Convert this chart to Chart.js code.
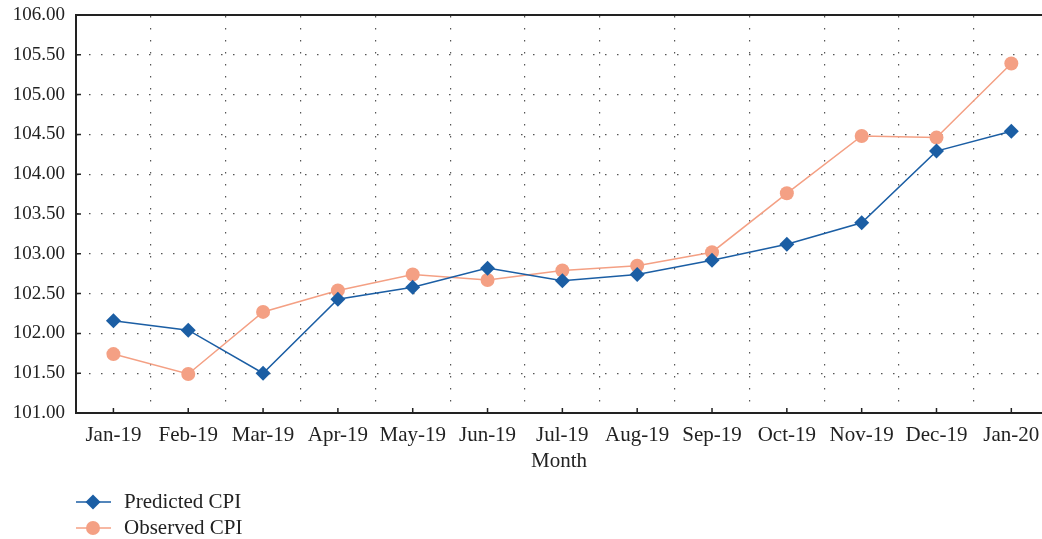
<!DOCTYPE html>
<html>
<head>
<meta charset="utf-8">
<title>Predicted vs Observed CPI</title>
<script src="https://cdn.jsdelivr.net/npm/chart.js@4"></script>
<style>
  html, body { margin: 0; padding: 0; background: #fff; overflow: hidden; }
  #wrap { width: 1042px; height: 539px; }
  canvas { display: block; }
</style>
</head>
<body>
<div id="wrap"><canvas id="cpi" width="1042" height="539"></canvas></div>
<script>
// data
const months = ['Jan-19', 'Feb-19', 'Mar-19', 'Apr-19', 'May-19', 'Jun-19', 'Jul-19',
  'Aug-19', 'Sep-19', 'Oct-19', 'Nov-19', 'Dec-19', 'Jan-20'];
const predictedCPI = [102.16, 102.04, 101.50, 102.43, 102.58, 102.82, 102.66,
  102.74, 102.92, 103.12, 103.39, 104.29, 104.54];
const observedCPI = [101.74, 101.49, 102.27, 102.54, 102.74, 102.67, 102.79,
  102.85, 103.02, 103.76, 104.48, 104.46, 105.39];
const yTicks = [101, 101.5, 102, 102.5, 103, 103.5, 104, 104.5, 105, 105.5, 106];

const FONT = '"Liberation Serif", "Times New Roman", serif';
const BLUE = '#1b5ea4';
const ORANGE = '#f4a084';
const DOTS = '#555555';

// small inward tick marks on the bottom and left axes
const innerTicks = {
  id: 'innerTicks',
  afterDatasetsDraw(chart) {
    const { ctx, chartArea, scales } = chart;
    ctx.save();
    ctx.strokeStyle = '#222';
    ctx.lineWidth = 1.5;
    ctx.beginPath();
    months.forEach((m, i) => {
      const x = scales.x.getPixelForValue(i);
      ctx.moveTo(x, chartArea.bottom);
      ctx.lineTo(x, chartArea.bottom - 5);
    });
    yTicks.forEach(v => {
      const y = scales.y.getPixelForValue(v);
      ctx.moveTo(chartArea.left, y);
      ctx.lineTo(chartArea.left + 5, y);
    });
    ctx.stroke();
    ctx.restore();
  }
};

// legend drawn as line + marker, one entry per row, bottom left
const lineLegend = {
  id: 'lineLegend',
  afterDraw(chart) {
    const { ctx, chartArea } = chart;
    const x0 = chartArea.left;
    chart.data.datasets.forEach((ds, i) => {
      const y = 502 + i * 26;
      ctx.save();
      ctx.strokeStyle = ds.borderColor;
      ctx.lineWidth = ds.borderWidth;
      ctx.beginPath();
      ctx.moveTo(x0, y);
      ctx.lineTo(x0 + 35, y);
      ctx.stroke();
      const cx = x0 + 17, r = ds.pointRadius;
      ctx.fillStyle = ds.pointBackgroundColor;
      ctx.beginPath();
      if (ds.pointStyle === 'rectRot') {
        ctx.moveTo(cx, y - r);
        ctx.lineTo(cx + r, y);
        ctx.lineTo(cx, y + r);
        ctx.lineTo(cx - r, y);
        ctx.closePath();
      } else {
        ctx.arc(cx, y, r, 0, Math.PI * 2);
      }
      ctx.fill();
      ctx.fillStyle = '#222';
      ctx.font = '21px ' + FONT;
      ctx.textBaseline = 'middle';
      ctx.fillText(ds.label, x0 + 48, y);
      ctx.restore();
    });
  }
};

const toPoints = arr => arr.map((v, i) => ({ x: i, y: v }));

new Chart(document.getElementById('cpi'), {
  type: 'line',
  data: {
    datasets: [{
      label: 'Predicted CPI',
      data: toPoints(predictedCPI),
      borderColor: BLUE,
      backgroundColor: BLUE,
      pointBackgroundColor: BLUE,
      pointBorderColor: BLUE,
      borderWidth: 1.5,
      pointStyle: 'rectRot',
      pointRadius: 7.5,
      pointBorderWidth: 0,
      order: 1
    }, {
      label: 'Observed CPI',
      data: toPoints(observedCPI),
      borderColor: ORANGE,
      backgroundColor: ORANGE,
      pointBackgroundColor: ORANGE,
      pointBorderColor: ORANGE,
      borderWidth: 1.5,
      pointStyle: 'circle',
      pointRadius: 7,
      pointBorderWidth: 0,
      order: 2
    }]
  },
  options: {
    responsive: false,
    animation: false,
    layout: { autoPadding: false, padding: { top: 15, right: 0, bottom: 61, left: 0 } },
    plugins: {
      legend: { display: false },
      tooltip: { enabled: false }
    },
    scales: {
      x: {
        type: 'linear',
        position: 'bottom',
        min: -0.5,
        max: 12.41,
        afterBuildTicks: s => { s.ticks = months.map((m, i) => ({ value: i })); },
        afterFit: s => { s.height = 65; s.paddingLeft = 0; s.paddingRight = 0; },
        grid: { display: false, drawTicks: false },
        border: { display: true, color: '#222', width: 2 },
        ticks: {
          color: '#222',
          padding: 10,
          maxRotation: 0,
          autoSkip: false,
          font: { family: FONT, size: 21 },
          callback: v => months[v]
        },
        title: {
          display: true,
          text: 'Month',
          color: '#222',
          padding: { top: 0 },
          font: { family: FONT, size: 21 }
        }
      },
      xg: {
        type: 'linear',
        position: 'top',
        min: -0.5,
        max: 12.41,
        afterBuildTicks: s => { s.ticks = months.slice(0, -1).map((m, i) => ({ value: i + 0.5 })); },
        afterFit: s => { s.height = 0; s.paddingLeft = 0; s.paddingRight = 0; },
        grid: { color: DOTS, lineWidth: 1.2, drawTicks: false },
        border: { display: true, color: '#222', width: 2, dash: [1.5, 10.5] },
        ticks: { display: false }
      },
      y: {
        min: 101,
        max: 106,
        afterBuildTicks: s => { s.ticks = yTicks.map(v => ({ value: v })); },
        afterFit: s => { s.width = 76; s.paddingTop = 0; s.paddingBottom = 0; },
        grid: { color: DOTS, lineWidth: 1.2, drawTicks: false },
        border: { display: true, color: '#222', width: 2, dash: [1.5, 10.5] },
        ticks: {
          color: '#222',
          padding: 11,
          font: { family: FONT, size: 19 },
          callback: v => v.toFixed(2)
        }
      }
    }
  },
  plugins: [innerTicks, lineLegend]
});
</script>
</body>
</html>
